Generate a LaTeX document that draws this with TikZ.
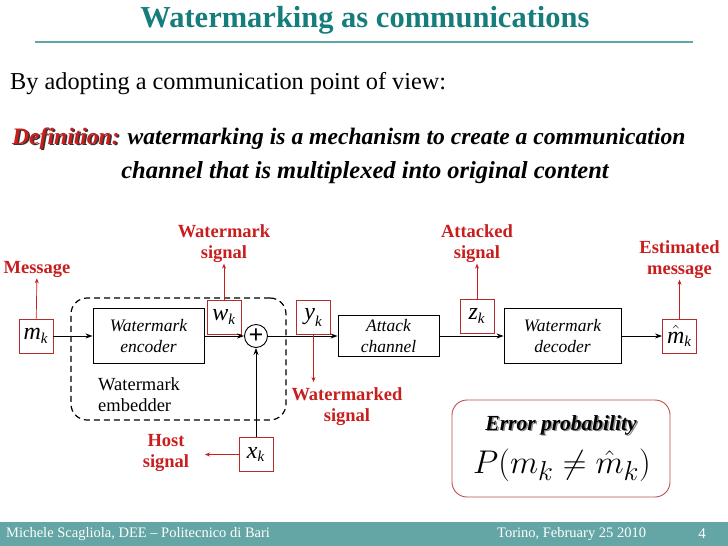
\documentclass[tikz,border=0pt]{standalone}
\usepackage{fontspec}
\setmainfont{Liberation Serif}
\usetikzlibrary{arrows.meta}
\definecolor{titleteal}{RGB}{22,125,125}
\definecolor{lineteal}{RGB}{95,165,165}
\definecolor{footteal}{RGB}{100,165,165}
\definecolor{labelred}{RGB}{200,30,30}
\definecolor{boxred}{RGB}{180,45,45}
\newcommand{\sigk}[1]{$\mbox{\textit{#1}}_{\mbox{\fontsize{15}{15}\selectfont\textit{k}}}$}
\tikzstyle{sig-node}=[draw=boxred,line width=0.8pt,minimum width=34pt,minimum height=34pt,inner sep=0pt,font=\fontsize{24}{26}\selectfont]
\tikzstyle{block-node}=[draw,fill=white,line width=0.9pt,align=center,inner sep=0pt,font=\fontsize{17.5}{21}\selectfont\itshape]
\tikzstyle{label-node}=[text=labelred,align=center,inner sep=1pt,font=\fontsize{18.5}{21}\selectfont\bfseries]
\tikzstyle{black-line}=[draw=black,line width=0.9pt]
\tikzstyle{red-line}=[draw=labelred,line width=0.7pt]

\begin{document}
\begin{tikzpicture}[x=1pt,y=-1pt]
	\useasboundingbox (0,0) rectangle (728,546);
	% header and text
	\node (title)[text=titleteal,font=\fontsize{30.5}{32}\selectfont\bfseries] at (365,20) {Watermarking as communications};
	\draw[lineteal,line width=1.3pt] (35,42) -- (693,42);
	\node (intro)[anchor=west,inner sep=0pt,font=\fontsize{24.3}{26}\selectfont] at (10,84) {By adopting a communication point of view:};
	\node (def-shadow)[anchor=base west,inner sep=0pt,text=black!80,font=\fontsize{23.6}{26}\selectfont\bfseries\itshape] at (13.5,145.5) {Definition:};
	\node (def1)[anchor=base west,inner sep=0pt,font=\fontsize{23.6}{26}\selectfont\bfseries\itshape] at (12,144) {\textcolor{labelred}{Definition:} watermarking is a mechanism to create a communication};
	\node (def2)[anchor=base,inner sep=0pt,font=\fontsize{24.5}{26}\selectfont\bfseries\itshape] at (365,178) {channel that is multiplexed into original content};

	% diagram
	\begin{scope}
	\node (emb)[draw,dashed,dash pattern=on 6pt off 4pt,line width=1.2pt,rounded corners=16pt,minimum width=215pt,minimum height=122pt] at (178.5,359) {};
	\node (emb-text)[anchor=north west,align=left,inner sep=0pt,font=\fontsize{18.5}{21}\selectfont] at (98,377) {Watermark\\embedder};
	\node (mk)[sig-node] at (36,336) {\sigk{m}};
	\node (enc)[block-node,minimum width=111pt,minimum height=55pt] at (148.5,336) {Watermark\\encoder};
	\node (wk)[sig-node] at (224,317) {\sigk{w}};
	\node (sum)[draw,circle,line width=0.9pt,minimum size=23pt,inner sep=0pt,font=\fontsize{26}{26}\selectfont\bfseries] at (256,336) {+};
	\node (xk)[sig-node] at (256,454.5) {\sigk{x}};
	\node (yk)[sig-node] at (313.5,317.5) {\sigk{y}};
	\node (att)[block-node,minimum width=101pt,minimum height=41pt] at (388.5,336) {Attack\\channel};
	\node (zk)[sig-node] at (477,316) {\sigk{z}};
	\node (dec)[block-node,minimum width=117pt,minimum height=55pt] at (562.5,336) {Watermark\\decoder};
	\node (mhat)[sig-node] at (679.5,336) {$\hat{\mbox{\textit{m}}}_{\mbox{\fontsize{15}{15}\selectfont\textit{k}}}$};

	\node (msg-label)[label-node] at (37,269) {Message};
	\node (wk-label)[label-node] at (224,243.5) {Watermark\\signal};
	\node (host-label)[label-node] at (166,452.5) {Host\\signal};
	\node (yk-label)[label-node] at (347,407) {Watermarked\\signal};
	\node (zk-label)[label-node] at (477,243.5) {Attacked\\signal};
	\node (mhat-label)[label-node] at (679.5,259.5) {Estimated\\message};
	\coordinate (yk-out) at (313.5,382);
	\coordinate (xk-out) at (205,454.5);
	\end{scope}

	\begin{scope}[>={Stealth[length=7pt,width=5pt]}, every edge/.style=black-line]
	\path [->] (mk) edge (enc);
	\path [->] (enc) edge (sum);
	\path [->] (sum) edge (att);
	\path [->] (att) edge (dec);
	\path [->] (dec) edge (mhat);
	\path [->] (xk) edge (sum);
	\end{scope}

	\begin{scope}[>={Stealth[length=5pt,width=4pt]}, every edge/.style=red-line]
	\path [->] (mk) edge (msg-label);
	\path [->] (wk) edge (wk-label);
	\path [->] (xk) edge (xk-out);
	\path [->] (yk) edge (yk-out);
	\path [->] (zk) edge (zk-label);
	\path [->] (mhat) edge (mhat-label);
	\end{scope}

	% error probability
	\node (err)[draw=boxred!85,line width=0.9pt,rounded corners=15pt,minimum width=218pt,minimum height=97pt] at (561,448.5) {};
	\node (err-shadow)[text=black!45,font=\fontsize{21.5}{24}\selectfont\bfseries\itshape] at (562.5,426.5) {Error probability};
	\node (err-title)[font=\fontsize{21.5}{24}\selectfont\bfseries\itshape] at (561,425) {Error probability};
	\node (err-formula)[font=\fontsize{24.88}{28}\selectfont] at (562,465) {\scalebox{1.32}{$P(m_k \neq \hat{m}_k)$}};

	% footer
	\fill[footteal] (0,522) rectangle (728,546);
	\node (foot-left)[anchor=west,inner sep=0pt,text=white,font=\fontsize{14.5}{16}\selectfont] at (6,534) {Michele Scagliola, DEE -- Politecnico di Bari};
	\node (foot-mid)[anchor=west,inner sep=0pt,text=white,font=\fontsize{14.5}{16}\selectfont] at (497,534) {Torino, February 25 2010};
	\node (foot-num)[text=white,font=\fontsize{15}{16}\selectfont] at (702,534) {4};
\end{tikzpicture}
\end{document}
